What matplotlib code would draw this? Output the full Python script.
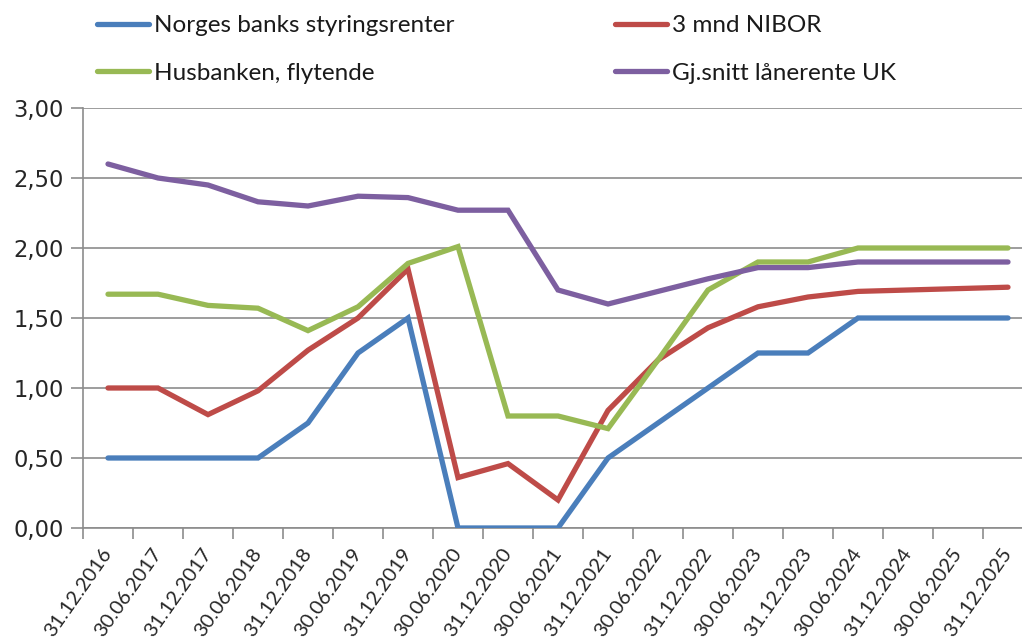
import matplotlib
matplotlib.use("Agg")
import matplotlib.pyplot as plt
import numpy as np

# Rentebaner, halvårlige datoer
datoer = ["31.12.2016", "30.06.2017", "31.12.2017", "30.06.2018", "31.12.2018",
          "30.06.2019", "31.12.2019", "30.06.2020", "31.12.2020", "30.06.2021",
          "31.12.2021", "30.06.2022", "31.12.2022", "30.06.2023", "31.12.2023",
          "30.06.2024", "31.12.2024", "30.06.2025", "31.12.2025"]

styringsrente = [0.50, 0.50, 0.50, 0.50, 0.75, 1.25, 1.50, 0.00, 0.00, 0.00,
                 0.50, 0.75, 1.00, 1.25, 1.25, 1.50, 1.50, 1.50, 1.50]
nibor = [1.00, 1.00, 0.81, 0.98, 1.27, 1.50, 1.85, 0.36, 0.46, 0.20,
         0.84, 1.20, 1.43, 1.58, 1.65, 1.69, 1.70, 1.71, 1.72]
husbanken = [1.67, 1.67, 1.59, 1.57, 1.41, 1.58, 1.89, 2.01, 0.80, 0.80,
             0.71, 1.20, 1.70, 1.90, 1.90, 2.00, 2.00, 2.00, 2.00]
uk_snitt = [2.60, 2.50, 2.45, 2.33, 2.30, 2.37, 2.36, 2.27, 2.27, 1.70,
            1.60, 1.69, 1.78, 1.86, 1.86, 1.90, 1.90, 1.90, 1.90]

serier = [
    ("Norges banks styringsrenter", styringsrente, "#4a7ebb"),
    ("3 mnd NIBOR", nibor, "#be4b48"),
    ("Husbanken, flytende", husbanken, "#98b954"),
    ("Gj.snitt lånerente UK", uk_snitt, "#7d5fa0"),
]

fig = plt.figure(figsize=(10.22, 6.44), dpi=100)
# axis runs a bit past the right edge of the canvas
ax = fig.add_axes([83 / 1022, 116 / 644, 950 / 1022, 420 / 644])

x = np.arange(len(datoer))
linjer = {}
for navn, verdier, farge in serier:
    (ln,) = ax.plot(x, verdier, color=farge, lw=3.8, solid_capstyle="round",
                    solid_joinstyle="miter", label=navn, zorder=3)
    linjer[navn] = ln

ax.set_xlim(-0.5, len(datoer) - 0.5)
ax.set_ylim(0, 3)
ax.set_yticks(np.arange(0, 3.01, 0.5))
ax.set_yticklabels([f"{v:.2f}".replace(".", ",") for v in np.arange(0, 3.01, 0.5)],
                   fontsize=16.3, family="DejaVu Sans", color="#262626")
ax.yaxis.grid(True, color="#8c8c8c", lw=1.2)
ax.set_axisbelow(True)

# tick marks sit on category boundaries, labels on the centres
ax.set_xticks(np.arange(-0.5, len(datoer) - 0.4, 1.0))
ax.set_xticklabels([])
ax.set_xticks(x, minor=True)
ax.set_xticklabels(datoer, minor=True, rotation=55, ha="right", va="center",
                   rotation_mode="anchor", fontsize=14.6, family="Lato",
                   color="#262626")
ax.tick_params(axis="x", which="minor", length=0, pad=16)
ax.tick_params(axis="x", which="major", length=8, width=1.2, color="#8c8c8c")
ax.tick_params(axis="y", length=9, width=1.2, color="#8c8c8c", pad=5)

for side in ("top", "right"):
    ax.spines[side].set_visible(False)
for side in ("left", "bottom"):
    ax.spines[side].set_color("#8c8c8c")
    ax.spines[side].set_linewidth(1.2)

rekkefolge = ["Norges banks styringsrenter", "Husbanken, flytende",
              "3 mnd NIBOR", "Gj.snitt lånerente UK"]
fig.legend([linjer[n] for n in rekkefolge], rekkefolge, ncol=2,
           loc="upper left", bbox_to_anchor=(97 / 1022, 1 - 15 / 644),
           frameon=False, borderpad=0, borderaxespad=0,
           prop={"family": "Lato", "size": 17.5}, handlelength=2.15,
           handletextpad=0.2, columnspacing=6.6, labelspacing=1.1,
           labelcolor="#1a1a1a")

fig.savefig("out.png", dpi=100)
